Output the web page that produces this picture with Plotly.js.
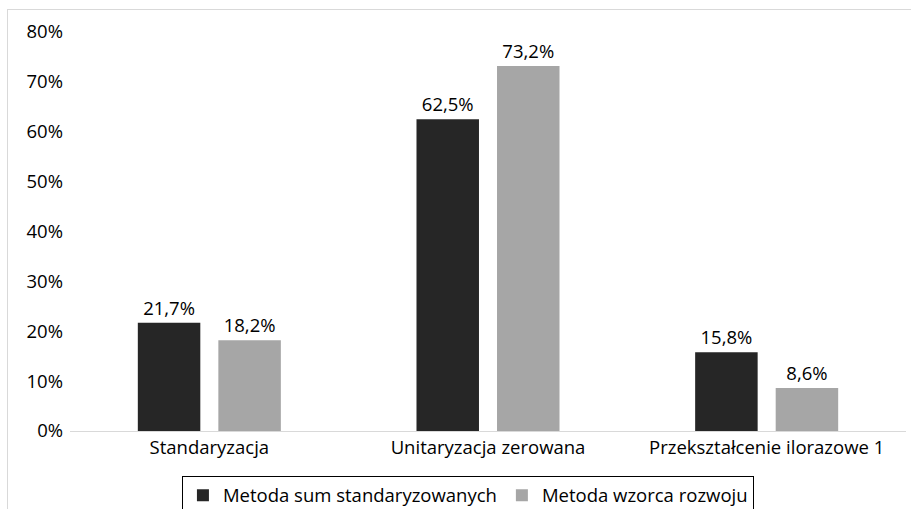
<!DOCTYPE html>
<html><head><meta charset="utf-8">
<script src="https://cdn.plot.ly/plotly-3.0.1.min.js"></script>
<style>
html,body{margin:0;padding:0;background:#fff;}
#wrap{position:relative;width:911px;height:509px;overflow:hidden;}
#chart{width:911px;height:509px;}
#frame{position:absolute;left:7px;top:9px;width:910px;height:520px;border:1px solid #d9d9d9;pointer-events:none;box-sizing:border-box;}
</style></head>
<body>
<div id="wrap"><div id="chart"></div><div id="frame"></div></div>
<script>
const categories = ["Standaryzacja", "Unitaryzacja zerowana", "Przekształcenie ilorazowe 1"];
const seriesNames = ["Metoda sum standaryzowanych", "Metoda wzorca rozwoju"];
const sumStand = [21.7, 62.5, 15.8];
const wzorzec = [18.2, 73.2, 8.6];
const yTicks = [0, 10, 20, 30, 40, 50, 60, 70, 80];
const yTickLabels = ["0%", "10%", "20%", "30%", "40%", "50%", "60%", "70%", "80%"];

const FONT = "'Open Sans', Lato, sans-serif";
const FS = 18.5;
const traces = [
  {type:"bar", name:seriesNames[0], x:categories, y:sumStand,
   marker:{color:"#262626"}, texttemplate:"%{y:.1f}%", textposition:"outside",
   textfont:{family:FONT,size:FS,color:"#000"}, cliponaxis:false},
  {type:"bar", name:seriesNames[1], x:categories, y:wzorzec,
   marker:{color:"#a6a6a6"}, texttemplate:"%{y:.1f}%", textposition:"outside",
   textfont:{family:FONT,size:FS,color:"#000"}, cliponaxis:false}
];
const layout = {
  width:911, height:509,
  margin:{l:70, r:5, t:32, b:78, autoexpand:false},
  paper_bgcolor:"#fff", plot_bgcolor:"#fff",
  separators:",.",
  font:{family:FONT, size:FS, color:"#000"},
  barmode:"group", bargap:0.422, bargroupgap:0.224,
  showlegend:true,
  legend:{orientation:"h", x:0.476, xanchor:"center", y:-0.112, yanchor:"top",
          bordercolor:"#000", borderwidth:1, bgcolor:"#fff",
          font:{family:FONT,size:FS,color:"#000"}, itemwidth:30, traceorder:"normal"},
  xaxis:{showline:true, linecolor:"#d9d9d9", linewidth:1, ticks:"", showgrid:false,
         tickfont:{family:FONT,size:FS,color:"#000"}, zeroline:false},
  yaxis:{range:[0,80], tickvals:yTicks, ticktext:yTickLabels, showgrid:false,
         zeroline:false, showline:false, ticks:"", ticklen:0, ticklabelstandoff:6,
         tickfont:{family:FONT,size:FS,color:"#000"}}
};
Plotly.newPlot("chart", traces, layout, {displayModeBar:false, staticPlot:true});
</script>
</body></html>
